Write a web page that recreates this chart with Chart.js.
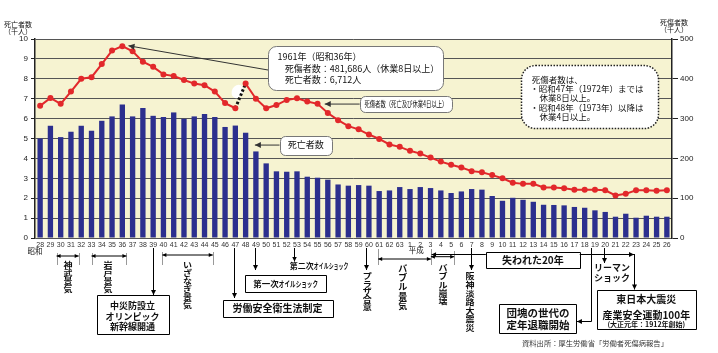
<!DOCTYPE html>
<html><head><meta charset="utf-8">
<script src="https://cdn.jsdelivr.net/npm/chart.js@4"></script>
<style>html,body{margin:0;padding:0;background:#fff;}canvas{display:block}</style>
</head><body>
<canvas id="c" width="718" height="353"></canvas>
<script>
// ---- data ----
const categories = ['28','29','30','31','32','33','34','35','36','37','38','39','40','41','42','43','44','45','46','47','48','49','50','51','52','53','54','55','56','57','58','59','60','61','62','63',
 '1','2','3','4','5','6','7','8','9','10','11','12','13','14','15','16','17','18','19','20','21','22','23','24','25','26'];
// deaths, thousands (left axis)
const deaths = [5.00,5.64,5.07,5.34,5.64,5.39,5.89,6.11,6.71,6.11,
 6.53,6.14,6.08,6.31,5.99,6.11,6.23,6.08,5.58,5.65,
 5.29,4.35,3.75,3.35,3.33,3.35,3.08,3.03,2.93,2.69,
 2.63,2.66,2.63,2.36,2.39,2.56,
 2.46,2.56,2.51,2.39,2.26,2.34,2.46,2.43,2.11,1.87,
 2.02,1.92,1.82,1.67,1.66,1.64,1.56,1.52,1.39,1.31,
 1.07,1.22,1.02,1.12,1.07,1.07];
// casualties, thousands (right axis)
const casualties = [332,352,337,368,400,404,437,471,482,469,
 443,430,411,407,397,388,384,368,339,326,
 388,350,326,334,347,351,343,337,314,296,
 281,273,260,249,235,229,
 219,212,202,192,184,177,168,165,158,150,
 139,136,136,127,127,125,121,121,121,120,
 107,111,120,120,119,120];
const leftTicks = [0,1,2,3,4,5,6,7,8,9,10];
const rightTicks = [0,100,200,300,400,500];
const breakIndex = 19; // S47 -> S48 definition change

const JP = '"Noto Sans CJK JP", sans-serif';
const BG = '#f6f3d1';

function ln(ctx,x1,y1,x2,y2,c,w){ctx.beginPath();ctx.moveTo(x1,y1);ctx.lineTo(x2,y2);ctx.strokeStyle=c||'#000';ctx.lineWidth=w||1;ctx.stroke();}
function head(ctx,x,y,ang,s,c){s=s||4.5;ctx.fillStyle=c||'#000';const ca=Math.cos(ang),sa=Math.sin(ang);
 ctx.beginPath();ctx.moveTo(x,y);ctx.lineTo(x-s*ca+s*0.5*sa,y-s*sa-s*0.5*ca);ctx.lineTo(x-s*ca-s*0.5*sa,y-s*sa+s*0.5*ca);ctx.closePath();ctx.fill();}
function arrow(ctx,x1,y1,x2,y2,both,c,s){ln(ctx,x1,y1,x2,y2,c,1);const a=Math.atan2(y2-y1,x2-x1);head(ctx,x2,y2,a,s,c);if(both)head(ctx,x1,y1,a+Math.PI,s,c);}
function rr(ctx,x1,y1,x2,y2,r){ctx.beginPath();ctx.moveTo(x1+r,y1);ctx.lineTo(x2-r,y1);ctx.arcTo(x2,y1,x2,y1+r,r);ctx.lineTo(x2,y2-r);ctx.arcTo(x2,y2,x2-r,y2,r);ctx.lineTo(x1+r,y2);ctx.arcTo(x1,y2,x1,y2-r,r);ctx.lineTo(x1,y1+r);ctx.arcTo(x1,y1,x1+r,y1,r);ctx.closePath();}
function box(ctx,x1,y1,x2,y2,r,stroke,dash,lw){x1=Math.round(x1)+.5;y1=Math.round(y1)+.5;x2=Math.round(x2)+.5;y2=Math.round(y2)+.5;
 ctx.save();if(r)rr(ctx,x1,y1,x2,y2,r);else{ctx.beginPath();ctx.rect(x1,y1,x2-x1,y2-y1);}
 ctx.fillStyle='#fff';ctx.fill();ctx.setLineDash(dash||[]);ctx.strokeStyle=stroke||'#000';ctx.lineWidth=lw||1;ctx.stroke();ctx.restore();}
function txt(ctx,s,x,y,font,align,color){ctx.font=font;ctx.textAlign=align||'center';ctx.textBaseline='middle';ctx.fillStyle=color||'#111';ctx.fillText(s,x,y);}
function fitTxt(ctx,s,x,y,font,w,color){ctx.save();ctx.font=font;const m=ctx.measureText(s).width;const k=Math.min(1,w/m);ctx.translate(x,y);ctx.scale(k,1);txt(ctx,s,0,0,font,'center',color);ctx.restore();}
// vertical text, each glyph squashed to fit the pitch
function vtxt(ctx,s,x,y,pitch,size){const sy=Math.min(1,pitch/(size*1.02));
 [...s].forEach((ch,k)=>{ctx.save();ctx.translate(x,y+k*pitch);ctx.scale(1,sy);ctx.font='bold '+size+'px '+JP;ctx.textAlign='center';ctx.textBaseline='top';ctx.fillStyle='#111';ctx.fillText(ch,0,0);ctx.restore();});}
function mixed(ctx,parts,x,y){ // left aligned sequence of {t,font,sx}
 let cx=x;parts.forEach(p=>{ctx.save();ctx.font=p.font;const w=ctx.measureText(p.t).width*(p.sx||1);ctx.translate(cx,y);ctx.scale(p.sx||1,1);ctx.textAlign='left';ctx.textBaseline='middle';ctx.fillStyle='#111';ctx.fillText(p.t,0,0);ctx.restore();cx+=w;});}
function vl(ctx,x,y1,y2){x=Math.round(x)+.5;ln(ctx,x,y1,x,y2,'#999',1);}

const annot = {
 id:'annot',
 beforeDraw(chart){const {ctx,chartArea:a}=chart;ctx.save();ctx.fillStyle=BG;ctx.fillRect(a.left,a.top,a.right-a.left,a.bottom-a.top);ctx.restore();},
 beforeDatasetDraw(chart,args){
  if(args.index!==1)return;
  const ctx=chart.ctx,m=chart.getDatasetMeta(1),p0=m.data[breakIndex],p1=m.data[breakIndex+1];
  const cx=p0.x+(p1.x-p0.x)*0.2,cy=p0.y+(p1.y-p0.y)*0.68;
  ctx.save();ctx.fillStyle='#fff';ctx.beginPath();ctx.ellipse(cx,cy,5.5,7,0.5,0,Math.PI*2);ctx.fill();ctx.restore();
 },
 afterDraw(chart){
  const ctx=chart.ctx,a=chart.chartArea,xs=chart.scales.x,ys=chart.scales.y;
  const x0=xs.getPixelForValue(0),st=xs.getPixelForValue(1)-x0;
  const X=i=>x0+i*st,Y=v=>ys.getPixelForValue(v),B=o=>a.bottom+o;
  ctx.save();
  // axis titles
  txt(ctx,'死亡者数',a.left-17,a.top-15,'7px '+JP);
  txt(ctx,'（千人）',a.left-17,a.top-8,'7px '+JP);
  txt(ctx,'死傷者数',a.right+2,a.top-17,'7px '+JP);
  txt(ctx,'（千人）',a.right+2,a.top-10,'7px '+JP);
  // --- top annotations ---
  arrow(ctx,X(22.2),Y(8.44),X(8.6),Y(9.66),false,'#333',6);
  box(ctx,X(22.2),Y(9.66),X(39.2),Y(7.45),8,'#777');
  txt(ctx,'1961年（昭和36年）',X(23.1),Y(9.1),'9px '+JP,'left');
  txt(ctx,'死傷者数：481,686人（休業8日以上）',X(23.8),Y(8.49),'9px '+JP,'left');
  txt(ctx,'死亡者数：6,712人',X(23.8),Y(7.95),'9px '+JP,'left');

  arrow(ctx,X(31.1),Y(6.73),X(27.7),Y(6.73),false,'#333',6);
  box(ctx,X(31.1),Y(7.16),X(40.1),Y(6.31),5,'#777');
  fitTxt(ctx,'死傷者数（死亡及び休業4日以上）',X(35.6),Y(6.73),'8.5px '+JP,83);

  arrow(ctx,X(23.3),Y(4.67),X(20.9),Y(4.67),false,'#333',6);
  box(ctx,X(23.3),Y(5.14),X(28.4),Y(4.19),5,'#777');
  txt(ctx,'死亡者数',X(25.85),Y(4.67),'9px '+JP);

  box(ctx,X(46.8),Y(8.71),X(60.1),Y(5.54),14,'#222',[1.5,1.5],1.5);
  const df='8.5px '+JP;
  txt(ctx,'死傷者数は、',X(47.85),Y(7.95),df,'left');
  txt(ctx,'・昭和47年（1972年）までは',X(47.7),Y(7.49),df,'left');
  txt(ctx,'休業8日以上。',X(48.6),Y(7.03),df,'left');
  txt(ctx,'・昭和48年（1973年）以降は',X(47.7),Y(6.53),df,'left');
  txt(ctx,'休業4日以上。',X(48.6),Y(6.08),df,'left');

  // --- bottom annotations ---
  const bf=s=>'bold '+s+'px '+JP;
  txt(ctx,'昭和',X(-0.5),B(13),'7.5px '+JP);
  // 神武景気
  vl(ctx,X(1.6),B(15),B(27));vl(ctx,X(3.75),B(15),B(27));
  arrow(ctx,X(1.6),B(18),X(3.75),B(18),true,'#000',4);
  vtxt(ctx,'神武景気',X(2.7),B(23),7.9,9);
  // 岩戸景気
  vl(ctx,X(5.0),B(15),B(27));vl(ctx,X(8.4),B(15),B(27));
  arrow(ctx,X(5.0),B(18),X(8.4),B(18),true,'#000',4);
  vtxt(ctx,'岩戸景気',X(6.6),B(23),7.9,9);
  // 中災防
  arrow(ctx,Math.round(X(11))+.5,B(10),Math.round(X(11))+.5,B(57),false,'#000',5);
  box(ctx,X(5.5),B(57),X(12.5),B(96),0);
  txt(ctx,'中災防設立',X(9),B(67.7),bf(9));
  txt(ctx,'オリンピック',X(9),B(78.7),bf(9));
  txt(ctx,'新幹線開通',X(9),B(88.7),bf(9));
  // いざなぎ景気
  vl(ctx,X(11.9),B(14),B(27));vl(ctx,X(16.8),B(14),B(27));
  arrow(ctx,X(11.9),B(17),X(16.8),B(17),true,'#000',4);
  vtxt(ctx,'いざなぎ景気',X(14.35),B(23),8,9);
  // 労働安全衛生法制定
  arrow(ctx,Math.round(X(18.9))+.5,B(10),Math.round(X(18.9))+.5,B(60),false,'#000',5);
  box(ctx,X(17.75),B(62),X(28.5),B(79),0);
  txt(ctx,'労働安全衛生法制定',X(23.1),B(70.5),bf(10));
  // 第一次オイルショック
  arrow(ctx,Math.round(X(20.9))+.5,B(10),Math.round(X(20.9))+.5,B(32),false,'#000',5);
  box(ctx,X(19.9),B(37),X(27.8),B(54),0);
  mixed(ctx,[{t:'第一次',font:bf(8.5)},{t:'オイルショック',font:bf(8),sx:0.7}],X(20.75),B(45.7));
  // 第二次オイルショック
  arrow(ctx,Math.round(X(24.75))+.5,B(10),Math.round(X(24.75))+.5,B(23.5),false,'#000',4.5);
  mixed(ctx,[{t:'第二次',font:bf(8)},{t:'オイルショック',font:bf(7.5),sx:0.66}],X(24.3),B(28));
  // プラザ合意
  arrow(ctx,Math.round(X(31.75))+.5,B(10),Math.round(X(31.75))+.5,B(32),false,'#000',5);
  vtxt(ctx,'プラザ合意',X(31.85),B(34),7.8,9);
  // 平成
  txt(ctx,'平成',X(36.6),B(12),'7.5px '+JP);
  vl(ctx,X(32.9),B(11),B(27));vl(ctx,X(38.03),B(11),B(27));vl(ctx,X(40.3),B(13),B(27));
  arrow(ctx,X(32.9),B(21),X(38.03),B(21),true,'#000',4);
  arrow(ctx,X(38.03),B(18.7),X(40.3),B(18.7),true,'#000',4);
  vtxt(ctx,'バブル景気',X(35.3),B(26),9.2,9);
  vtxt(ctx,'バブル崩壊',X(39.2),B(26),8.3,9);
  // 阪神淡路大震災
  arrow(ctx,Math.round(X(41.9))+.5,B(10),Math.round(X(41.9))+.5,B(32),false,'#000',5);
  vtxt(ctx,'阪神淡路大震災',X(41.85),B(34),8.6,9);
  // 失われた20年
  arrow(ctx,X(43.38),Math.round(B(16))+.5,X(38.1),Math.round(B(16))+.5,false,'#000',4.5);
  box(ctx,X(43.38),B(14),X(52.52),B(30),0);
  txt(ctx,'失われた20年',X(47.95),B(22.3),bf(10));
  arrow(ctx,X(52.52),Math.round(B(16))+.5,X(57.8),Math.round(B(16))+.5,false,'#000',5);
  arrow(ctx,Math.round(X(57.8))+.5,B(16),Math.round(X(57.8))+.5,B(51.5),false,'#000',5);
  // リーマンショック
  arrow(ctx,Math.round(X(54.9))+.5,B(10),Math.round(X(54.9))+.5,B(25),false,'#000',5);
  txt(ctx,'リーマン',X(55.65),B(30),bf(9));
  txt(ctx,'ショック',X(55.65),B(40),bf(9));
  // 団塊の世代
  ln(ctx,Math.round(X(53.6))+.5,B(10),Math.round(X(53.6))+.5,Math.round(B(83))+.5,'#000',1);
  arrow(ctx,Math.round(X(53.6))+.5,Math.round(B(83))+.5,X(52.25),Math.round(B(83))+.5,false,'#000',5);
  box(ctx,X(44.7),B(66),X(52.2),B(95),0);
  txt(ctx,'団塊の世代の',X(48.45),B(75.3),bf(10.5));
  txt(ctx,'定年退職開始',X(48.45),B(87),bf(10.5));
  // 東日本大震災
  box(ctx,X(54.2),B(52),X(63.8),B(91),0);
  txt(ctx,'東日本大震災',X(59),B(61.3),bf(10));
  txt(ctx,'産業安全運動100年',X(59),B(77),bf(10));
  txt(ctx,'(大正元年：1912年創始)',X(59),B(86.3),bf(7));
  // source
  txt(ctx,'資料出所：厚生労働省「労働者死傷病報告」',X(46.9),B(105.3),'7.3px '+JP,'left','#333');
  ctx.restore();
 }
};

Chart.defaults.font.family='"Liberation Sans", Arial, sans-serif';
new Chart(document.getElementById('c'),{
 data:{labels:categories,datasets:[
  {type:'bar',data:deaths,yAxisID:'y',backgroundColor:'#2c2f8e',barPercentage:0.52,categoryPercentage:1,order:2},
  {type:'line',data:casualties,yAxisID:'y2',borderColor:'#e2282b',backgroundColor:'#e2282b',borderWidth:2,
   pointRadius:3,pointBorderWidth:0,pointBackgroundColor:'#e2282b',tension:0,order:1,
   segment:{
    borderColor:c=>c.p0DataIndex===breakIndex?'#111':undefined,
    borderDash:c=>c.p0DataIndex===breakIndex?[2.5,2]:undefined,
    borderWidth:c=>c.p0DataIndex===breakIndex?3:undefined}}
 ]},
 options:{responsive:false,animation:false,devicePixelRatio:1,
  layout:{padding:{top:39,left:0,right:0,bottom:0}},
  plugins:{legend:{display:false},tooltip:{enabled:false}},
  scales:{
   x:{grid:{display:false,drawTicks:false},border:{display:false},
      ticks:{autoSkip:false,maxRotation:0,minRotation:0,font:{size:7},color:'#333',padding:3},
      afterFit(s){s.height=115;}},
   y:{position:'left',min:0,max:10,afterBuildTicks(s){s.ticks=leftTicks.map(v=>({value:v}));},
      ticks:{font:{size:8},color:'#222',padding:3},
      grid:{color:'#555',lineWidth:1,tickLength:4,tickColor:'#222'},
      border:{color:'#222',width:1.5},
      afterFit(s){s.width=35;}},
   y2:{position:'right',min:0,max:500,afterBuildTicks(s){s.ticks=rightTicks.map(v=>({value:v}));},
      ticks:{font:{size:8},color:'#222',padding:2},
      grid:{drawOnChartArea:false,tickLength:6,tickColor:'#222'},
      border:{color:'#222',width:1.5},
      afterFit(s){s.width=46;}}
  }},
 plugins:[annot]
});
</script>
</body></html>
